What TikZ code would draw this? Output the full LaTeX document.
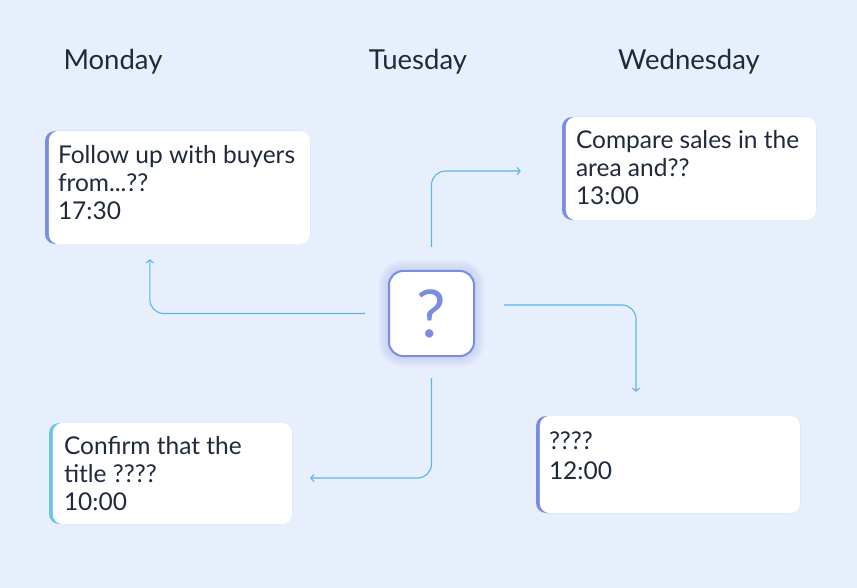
\documentclass[tikz,border=0pt]{standalone}
\usepackage{fontspec}
\setmainfont{Lato}
\usetikzlibrary{arrows.meta,calc}
\definecolor{bg}{HTML}{E8EFFC}
\definecolor{ink}{HTML}{1F2A3C}
\definecolor{violet}{HTML}{7B8DE2}
\definecolor{sky}{HTML}{6CC4EE}
\definecolor{wire}{HTML}{5AB5E5}
\tikzstyle{card} = [rectangle, rounded corners=10pt, inner sep=0pt]
\tikzstyle{txt} = [anchor=north west, inner sep=0pt, align=left, text=ink,
    font=\fontsize{24.5}{28}\selectfont]
\tikzstyle{day} = [anchor=base, text=ink, font=\fontsize{27.5}{30}\selectfont]
\tikzstyle{line} = [draw=wire, line width=1.1pt, rounded corners=14pt,
    -{Straight Barb[length=3pt,width=7pt]}]

\begin{document}
\begin{tikzpicture}[x=1pt, y=-1pt]

	\fill[bg] (0,0) rectangle (857,588);
	\useasboundingbox (0,0) rectangle (857,588);

	% column heads
	\node [day] (monday) at (113,70) {Monday};
	\node [day] (tuesday) at (418,70) {Tuesday};
	\node [day] (wednesday) at (689,70) {Wednesday};

	% cards
	\node [card, fill=violet, minimum width=265pt, minimum height=113pt] (mon) at (177.5,187.5) {};
	\fill [white, rounded corners=10pt] ([xshift=4pt]mon.south west) rectangle (mon.north east);
	\node [txt] (montxt) at ([xshift=13pt,yshift=-14pt]mon.north west) {Follow up with buyers\\from...??\\17:30};

	\node [card, fill=violet, minimum width=254pt, minimum height=103pt] (wed) at (689,168.5) {};
	\fill [white, rounded corners=10pt] ([xshift=4pt]wed.south west) rectangle (wed.north east);
	\node [txt] (wedtxt) at ([xshift=14pt,yshift=-13pt]wed.north west) {Compare sales in the\\area and??\\13:00};

	\node [card, fill=violet, minimum width=264pt, minimum height=97pt] (wedlow) at (668,464.5) {};
	\fill [white, rounded corners=10pt] ([xshift=4pt]wedlow.south west) rectangle (wedlow.north east);
	\node [txt] (wedlowtxt) at ([xshift=13pt,yshift=-16pt]wedlow.north west) {????\\[2pt]12:00};

	\node [card, fill=sky, minimum width=243pt, minimum height=101pt] (monlow) at (170.5,473.5) {};
	\fill [white, rounded corners=10pt] ([xshift=4pt]monlow.south west) rectangle (monlow.north east);
	\node [txt] (monlowtxt) at ([xshift=15pt,yshift=-13pt]monlow.north west) {Confirm that the\\title ????\\10:00};

	% question box with soft glow
	\coordinate (qc) at (431.5,313.5);
	\foreach \g in {1,2,...,10}
		\fill [violet, opacity=0.025, rounded corners=14pt+\g pt]
			([xshift=-43.5pt-\g pt, yshift=43.5pt+\g pt]qc) rectangle ([xshift=43.5pt+\g pt, yshift=-43.5pt-\g pt]qc);
	\node [rectangle, draw=violet, line width=2pt, fill=white, rounded corners=14pt,
		minimum size=85pt, text=violet, font=\fontsize{66}{66}\selectfont] (q) at (qc) {?};

	% connectors
	\path [line, shorten <=23pt, shorten >=15pt] (q.west) -| ([xshift=105pt]mon.south west);
	\path [line, shorten <=23pt, shorten >=41pt] (q.north) |- ([yshift=-2.5pt]wed.west);
	\path [line, shorten <=29pt, shorten >=24pt] ([yshift=8.5pt]q.east) -| ([xshift=-32pt]wedlow.north);
	\path [line, shorten <=21pt, shorten >=18pt] (q.south) |- ([yshift=-4.5pt]monlow.east);

\end{tikzpicture}
\end{document}
